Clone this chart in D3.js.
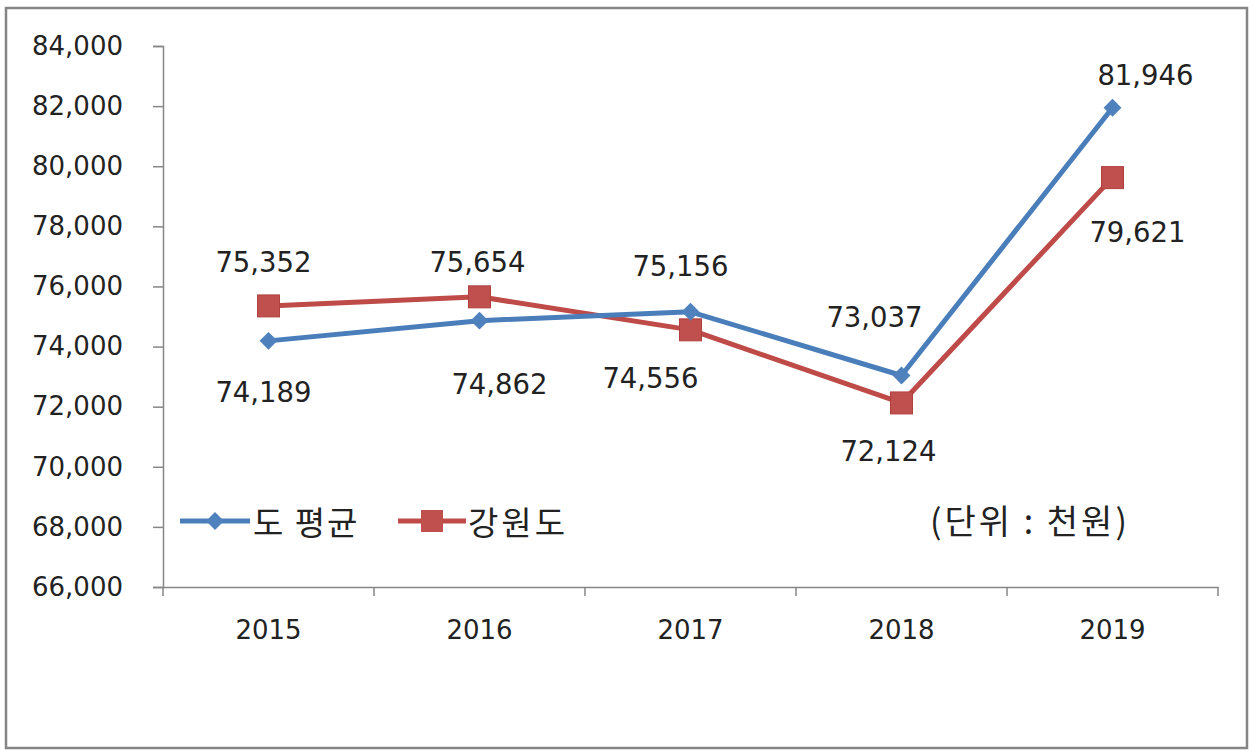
<!DOCTYPE html>
<html>
<head>
<meta charset="utf-8">
<script src="https://cdn.jsdelivr.net/npm/d3@7"></script>
<style>
  html, body { margin: 0; padding: 0; background: #fff; }
  svg { display: block; }
</style>
</head>
<body>
<div id="chart"></div>
<script>
// --- DATA ---
const years = ["2015", "2016", "2017", "2018", "2019"];
const avgValues = [74189, 74862, 75156, 73037, 81946];      // 도 평균
const gangwonValues = [75352, 75654, 74556, 72124, 79621];  // 강원도
const yTicks = [66000, 68000, 70000, 72000, 74000, 76000, 78000, 80000, 82000, 84000];
const seriesNames = ["도 평균", "강원도"];
const unitText = "(단위 : 천원)";

// label offsets (layout only): [dx, dy] relative to the marker
const avgLabelOffset = [[-5, 51], [20, 63], [-10, -46], [-27, -58], [33, -33]];
const gangwonLabelOffset = [[-5, -44], [-2, -35], [-40, 48], [-13, 48], [25, 54]];

// --- SETUP ---
const W = 1254, H = 750;
const margin = { left: 163, right: 36, top: 46, bottom: 163 };
const innerW = W - margin.left - margin.right;
const innerH = H - margin.top - margin.bottom;

const blue = "#4a7ebb", blueMark = "#4f81bd";
const red = "#be4b48", redMark = "#c0504d";
const numFont = "'DejaVu Sans', Verdana, sans-serif";
const krFont = "'Noto Sans CJK KR', 'Noto Sans', sans-serif";

const svg = d3.select("#chart").append("svg")
  .attr("width", W).attr("height", H);

// outer frame
svg.append("rect")
  .attr("x", 6).attr("y", 8)
  .attr("width", 1241).attr("height", 740)
  .attr("fill", "#fff")
  .attr("stroke", "#858585")
  .attr("stroke-width", 2.5);

const g = svg.append("g").attr("transform", `translate(${margin.left},${margin.top})`);

const x = d3.scaleBand().domain(years).range([0, innerW]);
const y = d3.scaleLinear().domain([66000, 84000]).range([innerH, 0]);
const fmt = d3.format(",");

// --- AXES ---
const yAxis = g.append("g")
  .call(d3.axisLeft(y).tickValues(yTicks).tickFormat(fmt).tickSize(10).tickPadding(30));
yAxis.select(".domain").attr("stroke", "#868686").attr("stroke-width", 1.5);
yAxis.selectAll(".tick line").attr("stroke", "#868686").attr("stroke-width", 1.5);
yAxis.selectAll("text").attr("fill", "#222").style("font-family", numFont).style("font-size", "26px");

const xAxis = g.append("g").attr("transform", `translate(0,${innerH})`)
  .call(d3.axisBottom(x).tickSize(0).tickPadding(34));
xAxis.select(".domain").attr("stroke", "#868686").attr("stroke-width", 1.5);
xAxis.selectAll("text").attr("fill", "#222").style("font-family", numFont).style("font-size", "26px");

// category boundary ticks
g.append("g").selectAll("line")
  .data(years.concat(["end"]))
  .join("line")
  .attr("x1", (d, i) => i * x.step()).attr("x2", (d, i) => i * x.step())
  .attr("y1", innerH).attr("y2", innerH + 9)
  .attr("stroke", "#868686").attr("stroke-width", 1.5);

const cx = d => x(d) + x.bandwidth() / 2;

// --- LINES ---
const line = d3.line().x((d, i) => cx(years[i])).y(d => y(d));

g.append("path").datum(gangwonValues)
  .attr("d", line).attr("fill", "none")
  .attr("stroke", red).attr("stroke-width", 5).attr("stroke-linejoin", "round");

g.append("path").datum(avgValues)
  .attr("d", line).attr("fill", "none")
  .attr("stroke", blue).attr("stroke-width", 5).attr("stroke-linejoin", "round");

// markers
const diamond = d3.symbol().type(d3.symbolSquare).size(160);
g.selectAll(".m-red").data(gangwonValues).join("rect")
  .attr("x", (d, i) => cx(years[i]) - 11).attr("y", d => y(d) - 11)
  .attr("width", 22).attr("height", 22)
  .attr("fill", redMark).attr("stroke", "#b0413e").attr("stroke-width", 1);

g.selectAll(".m-blue").data(avgValues).join("path")
  .attr("d", diamond)
  .attr("transform", (d, i) => `translate(${cx(years[i])},${y(d)}) rotate(45)`)
  .attr("fill", blueMark);

// data labels
function labels(values, offsets) {
  g.append("g").selectAll("text").data(values).join("text")
    .attr("x", (d, i) => cx(years[i]) + offsets[i][0])
    .attr("y", (d, i) => y(d) + offsets[i][1])
    .attr("text-anchor", "middle").attr("dominant-baseline", "central")
    .attr("fill", "#222")
    .style("font-family", numFont).style("font-size", "27.5px")
    .text(d => fmt(d));
}
labels(avgValues, avgLabelOffset);
labels(gangwonValues, gangwonLabelOffset);

// --- LEGEND ---
const legend = svg.append("g").attr("transform", "translate(180,521)");
const legBlue = legend.append("g");
legBlue.append("line").attr("x1", 0).attr("x2", 70).attr("y1", 0).attr("y2", 0)
  .attr("stroke", blue).attr("stroke-width", 5);
legBlue.append("path").attr("d", diamond).attr("transform", "translate(35,0) rotate(45)").attr("fill", blueMark);
legBlue.append("text").attr("x", 73).attr("y", 0).attr("dominant-baseline", "central")
  .attr("fill", "#222").style("font-family", krFont).style("font-size", "33px")
  .style("letter-spacing", "2px")
  .text(seriesNames[0]);

const legRed = legend.append("g").attr("transform", "translate(218,0)");
legRed.append("line").attr("x1", 0).attr("x2", 68).attr("y1", 0).attr("y2", 0)
  .attr("stroke", red).attr("stroke-width", 5);
legRed.append("rect").attr("x", 23).attr("y", -11).attr("width", 22).attr("height", 22).attr("fill", redMark);
legRed.append("text").attr("x", 70).attr("y", 0).attr("dominant-baseline", "central")
  .attr("fill", "#222").style("font-family", krFont).style("font-size", "33px")
  .style("letter-spacing", "3px")
  .text(seriesNames[1]);

// unit note
svg.append("text")
  .attr("x", 1030).attr("y", 519)
  .attr("text-anchor", "middle").attr("dominant-baseline", "central")
  .attr("fill", "#222").style("font-family", krFont).style("font-size", "34px")
  .style("letter-spacing", "3px")
  .text(unitText);
</script>
</body>
</html>
